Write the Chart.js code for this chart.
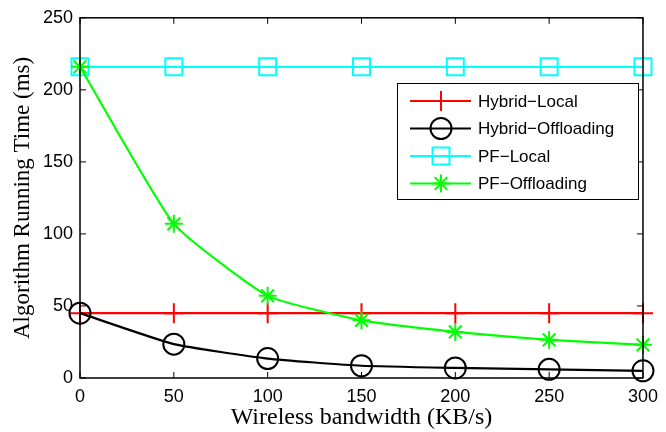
<!DOCTYPE html>
<html>
<head>
<meta charset="utf-8">
<script src="https://cdn.jsdelivr.net/npm/chart.js@4.4.0/dist/chart.umd.min.js"></script>
<style>
  html, body { margin: 0; padding: 0; background: #fff; }
  #wrap { width: 666px; height: 432px; }
</style>
</head>
<body>
<div id="wrap"><canvas id="chart"></canvas></div>
<script>
const bandwidth = [0, 50, 100, 150, 200, 250, 300];
const hybridLocal = [45, 45, 45, 45, 45, 45, 45];
const hybridOffloading = [45, 23.5, 13.5, 8.5, 7, 6, 5];
const pfLocal = [216, 216, 216, 216, 216, 216, 216];
const pfOffloading = [216, 107, 57, 40, 32, 26.5, 23];
const xTicks = [0, 50, 100, 150, 200, 250, 300];
const yTicks = [0, 50, 100, 150, 200, 250];

const toPoints = arr => arr.map((v, i) => ({ x: bandwidth[i], y: v }));

// MATLAB style box with inward ticks, plus the legend
const boxPlugin = {
  id: 'boxPlugin',
  afterDraw(chart) {
    const { ctx, chartArea: a, scales } = chart;
    ctx.save();
    ctx.strokeStyle = '#000';
    ctx.lineWidth = 1.5;
    ctx.strokeRect(a.left, a.top, a.right - a.left, a.bottom - a.top);
    ctx.lineWidth = 1;
    ctx.beginPath();
    xTicks.forEach(t => {
      const x = scales.x.getPixelForValue(t);
      ctx.moveTo(x, a.bottom); ctx.lineTo(x, a.bottom - 6);
      ctx.moveTo(x, a.top); ctx.lineTo(x, a.top + 6);
    });
    yTicks.forEach(t => {
      const y = scales.y.getPixelForValue(t);
      ctx.moveTo(a.left, y); ctx.lineTo(a.left + 6, y);
      ctx.moveTo(a.right, y); ctx.lineTo(a.right - 6, y);
    });
    ctx.stroke();

    // legend
    const bx = 397, by = 83, bw = 241, bh = 116;
    ctx.fillStyle = '#fff';
    ctx.fillRect(bx, by, bw, bh);
    ctx.strokeStyle = '#000';
    ctx.lineWidth = 1;
    ctx.strokeRect(bx + 0.5, by + 0.5, bw, bh);
    ctx.font = '17px "Liberation Sans", Arial, sans-serif';
    ctx.textBaseline = 'middle';
    const order = [3, 2, 1, 0];
    order.forEach((di, i) => {
      const ds = chart.data.datasets[di];
      const y = by + 18 + i * 27.5;
      ctx.strokeStyle = ds.borderColor;
      ctx.lineWidth = 2;
      ctx.beginPath();
      ctx.moveTo(bx + 13, y); ctx.lineTo(bx + 74, y);
      ctx.stroke();
      ctx.fillStyle = 'rgba(0,0,0,0)';
      Chart.helpers.drawPoint(ctx, {
        pointStyle: ds.pointStyle,
        radius: ds.pointRadius,
        borderWidth: 2,
        rotation: 0
      }, bx + 44, y);
      ctx.fillStyle = '#000';
      ctx.fillText(ds.label, bx + 81, y + 1);
    });
    ctx.restore();
  }
};

const mk = (label, data, color, style, radius) => ({
  label,
  data: toPoints(data),
  borderColor: color,
  backgroundColor: 'rgba(0,0,0,0)',
  borderWidth: 2.2,
  pointStyle: style,
  pointRadius: radius,
  pointBorderWidth: 2,
  pointBorderColor: color,
  pointBackgroundColor: 'rgba(0,0,0,0)',
  tension: 0.15,
  clip: false
});

new Chart(document.getElementById('chart'), {
  type: 'line',
  data: {
    // drawn in this order: green first, red last
    datasets: [
      mk('PF\u2212Offloading', pfOffloading, '#00ff00', 'star', 9),
      mk('PF\u2212Local', pfLocal, '#00ffff', 'rect', 12),
      mk('Hybrid\u2212Offloading', hybridOffloading, '#000000', 'circle', 10.5),
      mk('Hybrid\u2212Local', hybridLocal, '#ff0000', 'cross', 10)
    ]
  },
  plugins: [boxPlugin],
  options: {
    responsive: true,
    maintainAspectRatio: false,
    animation: false,
    layout: { padding: { top: 15, right: 14, left: 0, bottom: 0 } },
    plugins: { legend: { display: false }, tooltip: { enabled: false } },
    scales: {
      x: {
        type: 'linear',
        min: 0, max: 300,
        afterBuildTicks: s => { s.ticks = xTicks.map(v => ({ value: v })); },
        afterFit: s => { s.height = 54; },
        grid: { display: false, drawTicks: false },
        border: { display: false },
        ticks: { color: '#000', padding: 8, font: { family: '"Liberation Sans", Arial, sans-serif', size: 18 } },
        title: { display: true, text: 'Wireless bandwidth (KB/s)', color: '#000', padding: { top: 0, bottom: 0 },
                 font: { family: '"Liberation Serif", "Times New Roman", serif', size: 24 } }
      },
      y: {
        min: 0, max: 250,
        afterBuildTicks: s => { s.ticks = yTicks.map(v => ({ value: v })); },
        afterFit: s => { s.width = 80; },
        grid: { display: false, drawTicks: false },
        border: { display: false },
        ticks: { color: '#000', padding: 7, font: { family: '"Liberation Sans", Arial, sans-serif', size: 18 } },
        title: { display: true, text: 'Algorithm Running Time (ms)', color: '#000', padding: { top: 9, bottom: 0 },
                 font: { family: '"Liberation Serif", "Times New Roman", serif', size: 23 } }
      }
    }
  }
});
</script>
</body>
</html>
